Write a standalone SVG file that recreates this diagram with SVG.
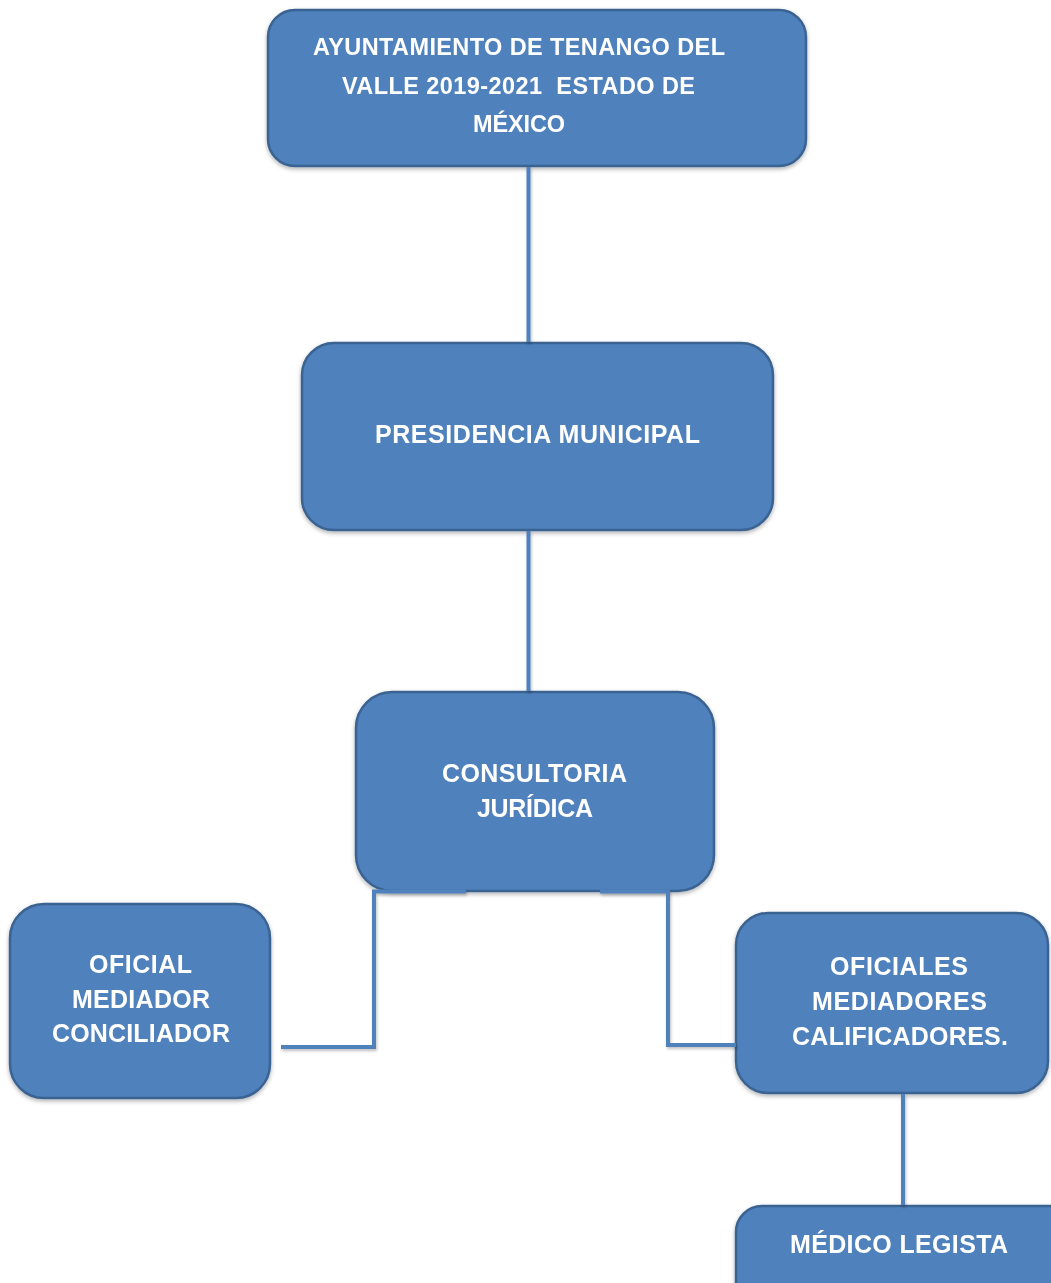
<svg xmlns="http://www.w3.org/2000/svg" width="1051" height="1283" viewBox="0 0 1051 1283">
  <defs>
    <filter id="sh" x="-10%" y="-10%" width="120%" height="130%">
      <feDropShadow dx="0" dy="2" stdDeviation="2" flood-color="#000" flood-opacity="0.3"/>
    </filter>
    <filter id="lsh" x="-10%" y="-10%" width="120%" height="120%">
      <feDropShadow dx="1" dy="2" stdDeviation="1.5" flood-color="#000" flood-opacity="0.25"/>
    </filter>
  </defs>
  <style>
    .box { fill: #4F81BD; stroke: #3B6392; stroke-width: 2.5; }
    .lbl { font-family: "Liberation Sans", Arial, sans-serif; font-weight: bold; font-size: 25px; fill: #FFFFFF; text-anchor: middle; }
    .top { font-size: 23.5px; }
    .con { fill: none; stroke: #4F81BD; stroke-width: 4; }
  </style>
  <rect width="1051" height="1283" fill="#FFFFFF"/>

  <g id="node-ayuntamiento" filter="url(#sh)">
    <rect class="box" x="268" y="10" width="538" height="156" rx="27"/>
    <text class="lbl top" x="519" y="55" textLength="412" lengthAdjust="spacing">AYUNTAMIENTO DE TENANGO DEL</text>
    <text class="lbl top" x="518.5" y="93.5" textLength="353" lengthAdjust="spacing" xml:space="preserve">VALLE 2019-2021  ESTADO DE</text>
    <text class="lbl top" x="519" y="132" textLength="92" lengthAdjust="spacing">MÉXICO</text>
  </g>

  <g id="node-presidencia" filter="url(#sh)">
    <rect class="box" x="302" y="343" width="471" height="187" rx="32"/>
    <text class="lbl" x="537.5" y="443" textLength="325" lengthAdjust="spacing">PRESIDENCIA MUNICIPAL</text>
  </g>

  <g id="node-consultoria" filter="url(#sh)">
    <rect class="box" x="356" y="692" width="358" height="199" rx="36"/>
    <text class="lbl" x="534.5" y="782" textLength="185" lengthAdjust="spacing">CONSULTORIA</text>
    <text class="lbl" x="535" y="817" textLength="116" lengthAdjust="spacing">JURÍDICA</text>
  </g>

  <g id="node-oficial-mediador" filter="url(#sh)">
    <rect class="box" x="10" y="904" width="260" height="194" rx="34"/>
    <text class="lbl" x="140.5" y="973" textLength="103" lengthAdjust="spacing">OFICIAL</text>
    <text class="lbl" x="141" y="1008" textLength="138" lengthAdjust="spacing">MEDIADOR</text>
    <text class="lbl" x="141" y="1042" textLength="178" lengthAdjust="spacing">CONCILIADOR</text>
  </g>

  <g id="node-oficiales-calificadores" filter="url(#sh)">
    <rect class="box" x="736" y="913" width="312" height="180" rx="32"/>
    <text class="lbl" x="899" y="975" textLength="138" lengthAdjust="spacing">OFICIALES</text>
    <text class="lbl" x="899.5" y="1010" textLength="175" lengthAdjust="spacing">MEDIADORES</text>
    <text class="lbl" x="900" y="1045" textLength="216" lengthAdjust="spacing">CALIFICADORES.</text>
  </g>

  <g id="node-medico-legista" filter="url(#sh)">
    <rect class="box" x="736" y="1206" width="340" height="110" rx="26"/>
    <text class="lbl" x="899" y="1253" textLength="218" lengthAdjust="spacing">MÉDICO LEGISTA</text>
  </g>

  <g id="connectors" filter="url(#lsh)">
    <path class="con" d="M528.5 167 V342"/>
    <path class="con" d="M528.5 531 V691"/>
    <path class="con" d="M466 891.5 H374 V1047 H281"/>
    <path class="con" d="M600 891.5 H668 V1045 H736"/>
    <path class="con" d="M903 1094 V1205"/>
  </g>
</svg>
